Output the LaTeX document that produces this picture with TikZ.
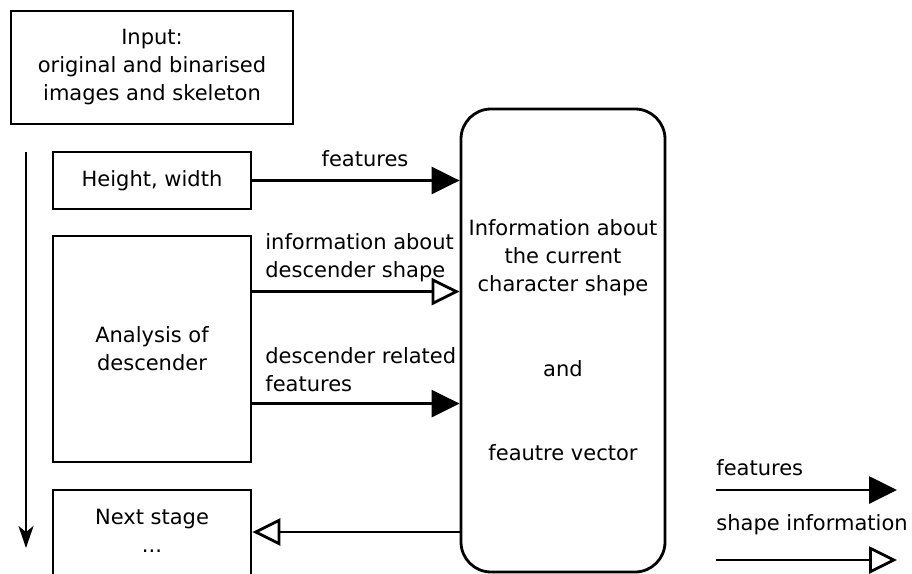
\documentclass[tikz,border=0pt]{standalone}
\usepackage{fontspec}
\setmainfont{DejaVu Sans}
\usetikzlibrary{arrows.meta}
\begin{document}
\begin{tikzpicture}[x=0.5pt,y=-0.5pt,
  every node/.style={font=\fontsize{10.5}{14}\selectfont},
  box/.style={draw,line width=1.4pt,inner sep=0pt,align=center},
  conn/.style={line width=1.4pt},
  fullarr/.style={conn,-{Triangle[length=14pt,width=13.5pt]}},
  openarr/.style={conn,-{Triangle[open,length=14pt,width=13.5pt,fill=white]}},
  lbl/.style={inner sep=0pt,align=left,anchor=west}]
\useasboundingbox (0,0) rectangle (912,574);
\clip (0,0) rectangle (912,574);
% boxes
\node[box,minimum width=141pt,minimum height=56.5pt] (inp) at (152,67.5)
  {Input:\\original and binarised\\images and skeleton};
\node[box,minimum width=99pt,minimum height=28.5pt] (hw) at (152,180.5) {Height, width};
\node[box,minimum width=99pt,minimum height=113pt] (an) at (152,349) {Analysis of\\descender};
\node[box,minimum width=99pt,minimum height=60pt] (ns) at (152,550) {};
\node[inner sep=0pt,align=center] (nst) at (152,531) {Next stage\\...};
\node[box,rounded corners=15pt,minimum width=102pt,minimum height=231.5pt] (info) at (563,340.5)
  {Information about\\the current\\character shape\\[28.5pt]and\\[28pt]feautre vector};
% down arrow
\coordinate (dtop) at (26,152);
\coordinate (dbot) at (26,548);
\draw[conn,-{Stealth[length=11pt,width=7.5pt,inset=3pt]}] (dtop) -- (dbot);
% connectors
\draw[fullarr] (hw.east) -- (hw.east -| info.west);
\node[inner sep=0pt] (l1) at (365,159) {features};
\coordinate (a2) at ([yshift=-28.5pt]an.north east);
\draw[openarr] (a2) -- (a2 -| info.west);
\node[lbl] (l2) at (265,258) {information about\\descender shape};
\coordinate (a3) at ([yshift=-84.5pt]an.north east);
\draw[fullarr] (a3) -- (a3 -| info.west);
\node[lbl] (l3) at (265,370) {descender related\\features};
\coordinate (a4) at (ns.east |- 0,532);
\draw[openarr] (a4 -| info.west) -- (a4);
% legend
\coordinate (lf1) at (716,490);
\coordinate (lf2) at (897,490);
\draw[fullarr] (lf1) -- (lf2);
\node[lbl] (lg1) at (716,468) {features};
\coordinate (ls1) at (716,560);
\coordinate (ls2) at (897,560);
\draw[openarr] (ls1) -- (ls2);
\node[lbl] (lg2) at (716,525) {shape information};
\end{tikzpicture}
\end{document}
